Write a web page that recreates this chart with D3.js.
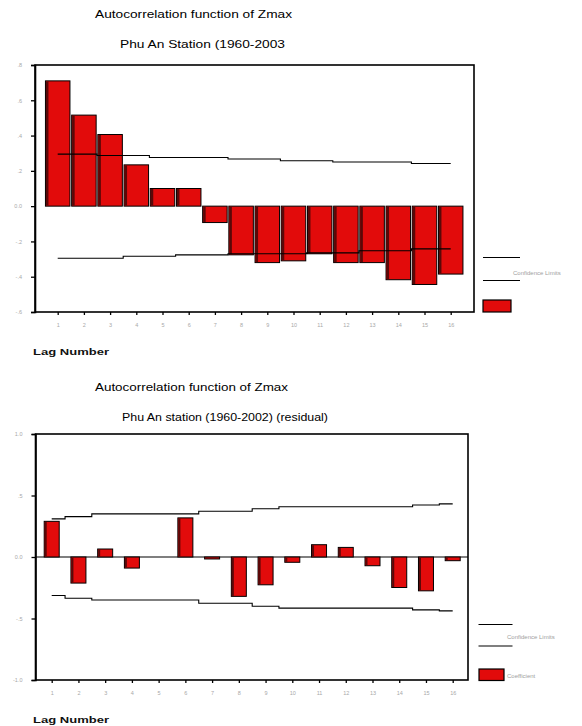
<!DOCTYPE html>
<html>
<head>
<meta charset="utf-8">
<script src="https://cdn.jsdelivr.net/npm/d3@7"></script>
<style>
  html, body { margin: 0; padding: 0; background: #fff; }
  svg { display: block; }
  text { font-family: "Liberation Sans", Arial, sans-serif; }
</style>
</head>
<body>
<div id="chart"></div>
<script>
// ---------- DATA ----------
const lags = [1, 2, 3, 4, 5, 6, 7, 8, 9, 10, 11, 12, 13, 14, 15, 16];

// Chart 1: Phu An Station (1960-2003)
const acfTop   = [0.71, 0.516, 0.406, 0.234, 0.10, 0.10, -0.093, -0.276, -0.32, -0.31, -0.27, -0.32, -0.32, -0.417, -0.444, -0.385];
const upperTop = [0.295, 0.295, 0.287, 0.287, 0.276, 0.276, 0.276, 0.267, 0.267, 0.257, 0.257, 0.25, 0.25, 0.25, 0.242, 0.242];
const lowerTop = [-0.295, -0.295, -0.295, -0.284, -0.284, -0.276, -0.276, -0.27, -0.27, -0.27, -0.265, -0.265, -0.253, -0.253, -0.242, -0.242];
const yTicksTop = [0.8, 0.6, 0.4, 0.2, 0.0, -0.2, -0.4, -0.6];
const yTickLabelsTop = [".8", ".6", ".4", ".2", "0.0", "-.2", "-.4", "-.6"];

// Chart 2: Phu An station (1960-2002) (residual)
const acfBottom   = [0.29, -0.212, 0.065, -0.09, 0.0, 0.318, -0.016, -0.32, -0.226, -0.043, 0.10, 0.078, -0.071, -0.248, -0.275, -0.03];
const upperBottom = [0.31, 0.328, 0.351, 0.351, 0.351, 0.351, 0.372, 0.372, 0.392, 0.409, 0.409, 0.409, 0.409, 0.409, 0.423, 0.432];
const lowerBottom = [-0.313, -0.335, -0.349, -0.349, -0.349, -0.349, -0.376, -0.376, -0.40, -0.416, -0.416, -0.416, -0.416, -0.416, -0.43, -0.438];
const yTicksBottom = [1.0, 0.5, 0.0, -0.5, -1.0];
const yTickLabelsBottom = ["1.0", ".5", "0.0", "-.5", "-1.0"];

const titleMain = "Autocorrelation function of Zmax";
const subTop = "Phu An Station (1960-2003";
const subBottom = "Phu An station (1960-2002) (residual)";
const xAxisTitle = "Lag Number";
const legendLimits = "Confidence Limits";
const legendCoef = "Coefficient";

// ---------- DRAW ----------
const W = 582, H = 726;
const svg = d3.select("#chart").append("svg").attr("width", W).attr("height", H);

const RED = "#e20b0b";
const DARK = "#5a0808";

function drawChart(cfg) {
  const g = svg.append("g");
  const x = d3.scaleLinear().domain([1, 16]).range([cfg.x1, cfg.x16]);
  const y = d3.scaleLinear().domain(cfg.yDomain).range([cfg.bottom, cfg.top]);

  // titles
  g.append("text").attr("x", cfg.t1x).attr("y", cfg.t1y)
    .attr("font-size", 11).attr("textLength", cfg.t1w).attr("lengthAdjust", "spacingAndGlyphs")
    .attr("fill", "#000").text(titleMain);
  g.append("text").attr("x", cfg.t2x).attr("y", cfg.t2y)
    .attr("font-size", 11).attr("textLength", cfg.t2w).attr("lengthAdjust", "spacingAndGlyphs")
    .attr("fill", "#000").text(cfg.sub);

  // zero line (residual chart)
  if (cfg.zeroLine) {
    g.append("line").attr("x1", cfg.left).attr("x2", cfg.right)
      .attr("y1", y(0)).attr("y2", y(0)).attr("stroke", "#000").attr("stroke-width", 1.2);
  }

  // bars
  const bars = g.append("g");
  cfg.acf.forEach((v, i) => {
    const cx = x(lags[i]);
    const y0 = y(0), yv = y(v);
    const top = Math.min(y0, yv), h = Math.abs(y0 - yv);
    if (h < 0.5) return;
    bars.append("rect").attr("x", cx - cfg.bw / 2).attr("y", top)
      .attr("width", cfg.bw).attr("height", h)
      .attr("fill", RED).attr("stroke", "#000").attr("stroke-width", 1);
    bars.append("rect").attr("x", cx - cfg.bw / 2 + 0.5).attr("y", top + 0.5)
      .attr("width", cfg.shade).attr("height", Math.max(0, h - 1))
      .attr("fill", DARK);
  });

  // confidence limits (step lines)
  const line = d3.line().x((d, i) => x(lags[i])).y(d => y(d)).curve(d3.curveStep);
  [cfg.upper, cfg.lower].forEach(arr => {
    g.append("path").attr("d", line(arr)).attr("fill", "none")
      .attr("stroke", "#000").attr("stroke-width", 1.1);
  });

  // frame
  g.append("rect").attr("x", cfg.left).attr("y", cfg.top)
    .attr("width", cfg.right - cfg.left).attr("height", cfg.bottom - cfg.top)
    .attr("fill", "none").attr("stroke", "#000").attr("stroke-width", 1.6);

  // y axis
  const yAxis = d3.axisLeft(y).tickValues(cfg.yTicks)
    .tickFormat((d, i) => cfg.yLabels[i]).tickSize(4).tickPadding(9);
  const ya = g.append("g").attr("transform", `translate(${cfg.left},0)`).call(yAxis);
  ya.select(".domain").attr("stroke-width", 1.6);
  ya.selectAll(".tick line").attr("stroke-width", 1.3);
  ya.selectAll(".tick text").attr("font-size", 5.5).attr("fill", "#a8a8a8")
    .attr("font-family", "Liberation Sans, Arial, sans-serif");

  // x axis
  const xAxis = d3.axisBottom(x).tickValues(lags).tickFormat(d => String(d)).tickSize(3).tickPadding(8);
  const xa = g.append("g").attr("transform", `translate(0,${cfg.bottom})`).call(xAxis);
  xa.select(".domain").remove();
  xa.selectAll(".tick line").attr("stroke-width", 1.3);
  xa.selectAll(".tick text").attr("font-size", 5.5).attr("fill", "#a8a8a8")
    .attr("font-family", "Liberation Sans, Arial, sans-serif");

  // x axis title
  g.append("text").attr("x", 33).attr("y", cfg.xtY)
    .attr("font-family", "DejaVu Sans Mono, monospace").attr("font-weight", "bold")
    .attr("font-size", 9).attr("textLength", 76).attr("lengthAdjust", "spacingAndGlyphs")
    .attr("fill", "#111").text(xAxisTitle);

  // legend
  const L = cfg.legend;
  [L.l1y, L.l2y].forEach(yy => {
    g.append("line").attr("x1", L.lx1).attr("x2", L.lx2).attr("y1", yy).attr("y2", yy)
      .attr("stroke", "#000").attr("stroke-width", 1.1);
  });
  g.append("text").attr("x", L.tx).attr("y", L.ty).attr("font-size", 6)
    .attr("fill", "#a0a0a0").text(legendLimits);
  g.append("rect").attr("x", L.rx).attr("y", L.ry).attr("width", L.rw).attr("height", L.rh)
    .attr("fill", RED).attr("stroke", "#000").attr("stroke-width", 1.2);
  if (L.coef) {
    g.append("text").attr("x", L.cx).attr("y", L.cy).attr("font-size", 6)
      .attr("fill", "#a0a0a0").text(legendCoef);
  }
}

drawChart({
  acf: acfTop, upper: upperTop, lower: lowerTop,
  yDomain: [-0.6, 0.8], yTicks: yTicksTop, yLabels: yTickLabelsTop,
  left: 35, right: 474, top: 65, bottom: 312,
  x1: 57.7, x16: 450.7, bw: 24.5, shade: 2.5,
  sub: subTop,
  t1x: 95, t1y: 17.5, t1w: 197,
  t2x: 120, t2y: 48, t2w: 165,
  zeroLine: false, xtY: 355,
  legend: { lx1: 483, lx2: 520, l1y: 257.5, l2y: 280.5, tx: 513, ty: 275,
            rx: 483, ry: 300, rw: 28, rh: 12, coef: false }
});

drawChart({
  acf: acfBottom, upper: upperBottom, lower: lowerBottom,
  yDomain: [-1, 1], yTicks: yTicksBottom, yLabels: yTickLabelsBottom,
  left: 35.5, right: 468, top: 434, bottom: 680,
  x1: 51.7, x16: 452.7, bw: 15, shade: 2,
  sub: subBottom,
  t1x: 95, t1y: 391, t1w: 193,
  t2x: 122, t2y: 420.5, t2w: 206,
  zeroLine: true, xtY: 723,
  legend: { lx1: 478.5, lx2: 512.5, l1y: 624.5, l2y: 646, tx: 507, ty: 639,
            rx: 479, ry: 669, rw: 25, rh: 11.5, coef: true, cx: 507, cy: 678 }
});
</script>
</body>
</html>
